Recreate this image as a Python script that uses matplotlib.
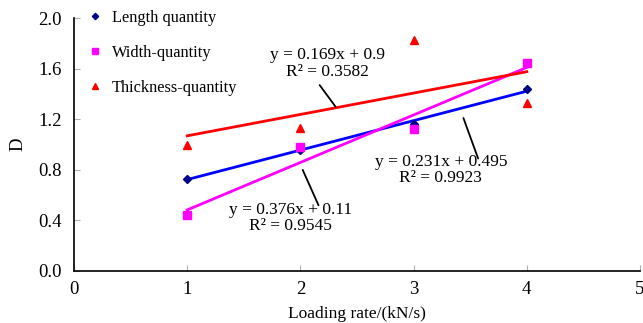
import matplotlib.pyplot as plt
import numpy as np

plt.rcParams['font.family'] = ['Liberation Serif', 'DejaVu Serif']

rate = [1, 2, 3, 4]
length_q = [0.73, 0.96, 1.16, 1.44]
width_q = [0.44, 0.98, 1.12, 1.645]
thick_q = [1.00, 1.13, 1.83, 1.33]

series = [
    ('Length quantity', length_q, '#00008B', 'D', 4, 'blue'),
    ('Width-quantity', width_q, '#FF00FF', 's', 5.5, '#FF00FF'),
    ('Thickness-quantity', thick_q, 'red', '^', 5.5, 'red'),
]

# equation text, text centre, leader start, leader end
eq_text = [
    ('y = 0.231x + 0.495\nR\u00b2 = 0.9923', (3.24, 0.80), (3.44, 1.21), (3.57, 0.89)),
    ('y = 0.376x + 0.11\nR\u00b2 = 0.9545', (1.91, 0.42), (2.02, 0.80), (2.16, 0.52)),
    ('y = 0.169x + 0.9\nR\u00b2 = 0.3582', (2.24, 1.64), (2.17, 1.47), (2.31, 1.30)),
]

fig = plt.figure(figsize=(6.43, 3.23), dpi=100)
ax = fig.add_axes([0.1151, 0.161, 0.8802, 0.783])

x = np.array(rate)
for name, vals, mcol, mk, ms, lcol in series:
    ax.plot(rate, vals, linestyle='none', marker=mk, markersize=ms, color=mcol,
            label=name)
    k, b = np.polyfit(x, vals, 1)
    ax.plot(x, k * x + b, color=lcol, linewidth=2, zorder=1)

for txt, pos, p0, p1 in eq_text:
    ax.text(pos[0], pos[1], txt, ha='center', va='center', fontsize=12.5,
            linespacing=1.05)
    ax.annotate('', xy=p1, xytext=p0,
                arrowprops=dict(arrowstyle='-', color='black', lw=1.3,
                                shrinkA=0, shrinkB=0))

ax.set_xlim(0, 5)
ax.set_ylim(0, 2.0)
ax.set_xticks([0, 1, 2, 3, 4, 5])
ax.set_yticks([0, 0.4, 0.8, 1.2, 1.6, 2.0])
ax.set_yticklabels(['0.0', '0.4', '0.8', '1.2', '1.6', '2.0'])
ax.tick_params(direction='in', length=4, color='#b0b0b0', labelsize=13.5)
ax.tick_params(axis='x', pad=7)
ax.tick_params(axis='y', pad=9)
ax.spines['top'].set_visible(False)
ax.spines['right'].set_visible(False)
for s in ['left', 'bottom']:
    ax.spines[s].set_linewidth(1.2)
ax.set_xlabel('Loading rate/(kN/s)', fontsize=12.5, labelpad=6)
ax.set_ylabel('D', fontsize=13.5, labelpad=8)

ax.legend(loc='upper left', bbox_to_anchor=(0.0, 1.09), frameon=False, fontsize=11.8,
          handlelength=0.8, handletextpad=0.6, labelspacing=1.15, markerscale=0.8)

fig.savefig('out.png', dpi=100)
